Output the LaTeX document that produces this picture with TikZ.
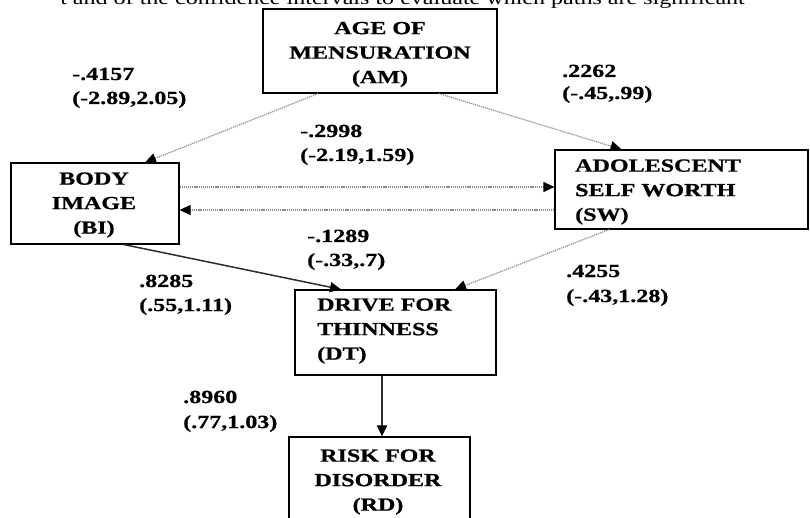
\documentclass[tikz,border=0pt]{standalone}
\usepackage{fontspec}
\newfontfamily\labfont{Liberation Serif}[FakeStretch=1.3, BoldFeatures={FakeBold=0.8}]
\usetikzlibrary{arrows.meta}
\definecolor{dotgray}{RGB}{140,140,140}
\definecolor{solidgray}{RGB}{45,45,45}
\tikzset{
  boxnode/.style={draw=black, line width=1.2pt, rectangle, inner sep=0pt},
  txt/.style={font=\labfont\bfseries\fontsize{18.5}{24.5}\selectfont, inner sep=0pt, align=center},
  txtl/.style={font=\labfont\bfseries\fontsize{18.5}{24.5}\selectfont, inner sep=0pt, align=left},
  coef/.style={font=\labfont\bfseries\fontsize{18.5}{24.5}\selectfont, inner sep=0pt, anchor=base west},
  dotarrow/.style={draw=dotgray, line width=1.2pt, dash pattern=on 1.2pt off 0.9pt, -{Triangle[length=11pt,width=10pt,color=black]}},
  solidarrow/.style={draw=solidgray, line width=1.5pt, -{Triangle[length=11pt,width=10pt,color=black]}},
}
\begin{document}
\begin{tikzpicture}[x=1pt,y=-1pt]
\clip (0,0) rectangle (810,518);
\fill[white] (0,0) rectangle (810,518);
% cut caption at top
\node[font=\labfont\fontsize{18.5}{24.5}\selectfont, inner sep=0pt, anchor=base east] (cap) at (745,5) {t and of the confidence intervals to evaluate which paths are significant};
% boxes
\node[boxnode, minimum width=234pt, minimum height=84pt] (am) at (380,51) {};
\node[boxnode, minimum width=168pt, minimum height=81pt] (bi) at (95,203.5) {};
\node[boxnode, minimum width=253pt, minimum height=79pt] (sw) at (681.5,189.5) {};
\node[boxnode, minimum width=201pt, minimum height=85pt] (dt) at (395.5,332.5) {};
\node[boxnode, minimum width=181pt, minimum height=93pt] (rd) at (379.5,483.5) {};
% box texts
\node[txt] (amt) at (380,54.5) {AGE OF\\MENSURATION\\(AM)};
\node[txt] (bit) at (94,205) {BODY\\IMAGE\\(BI)};
\node[txtl, anchor=west] (swt) at (575,192) {ADOLESCENT\\SELF WORTH\\(SW)};
\node[txtl, anchor=west] (dtt) at (317,331) {DRIVE FOR\\THINNESS\\(DT)};
\node[txt] (rdt) at (378,482) {RISK FOR\\DISORDER\\(RD)};
% connectors
\draw[dotarrow] ([xshift=-62pt]am.south) -- ([xshift=50pt]bi.north);
\draw[dotarrow] ([xshift=59pt]am.south) -- ([xshift=-60pt]sw.north);
\draw[dotarrow] ([yshift=16.5pt]bi.east) -- ([yshift=2.5pt]sw.west);
\draw[dotarrow] ([yshift=-20.5pt]sw.west) -- ([yshift=-6.5pt]bi.east);
\draw[solidarrow] ([xshift=29pt]bi.south) -- ([xshift=-54.5pt]dt.north);
\draw[dotarrow] ([xshift=-72.5pt]sw.south) -- ([xshift=59.5pt]dt.north);
\draw[solidarrow, line width=2pt] ([xshift=-13.5pt]dt.south) -- ([xshift=2.5pt]rd.north);
% coefficients
\node[coef] (c1a) at (72,80) {-.4157};
\node[coef] (c1b) at (72,104) {(-2.89,2.05)};
\node[coef] (c2a) at (562,77) {.2262};
\node[coef] (c2b) at (562,99) {(-.45,.99)};
\node[coef] (c3a) at (300,137) {-.2998};
\node[coef] (c3b) at (300,161) {(-2.19,1.59)};
\node[coef] (c4a) at (307,242) {-.1289};
\node[coef] (c4b) at (307,266) {(-.33,.7)};
\node[coef] (c5a) at (139,287) {.8285};
\node[coef] (c5b) at (139,311) {(.55,1.11)};
\node[coef] (c6a) at (566,277) {.4255};
\node[coef] (c6b) at (566,302) {(-.43,1.28)};
\node[coef] (c7a) at (183,403) {.8960};
\node[coef] (c7b) at (183,428) {(.77,1.03)};
\end{tikzpicture}
\end{document}
